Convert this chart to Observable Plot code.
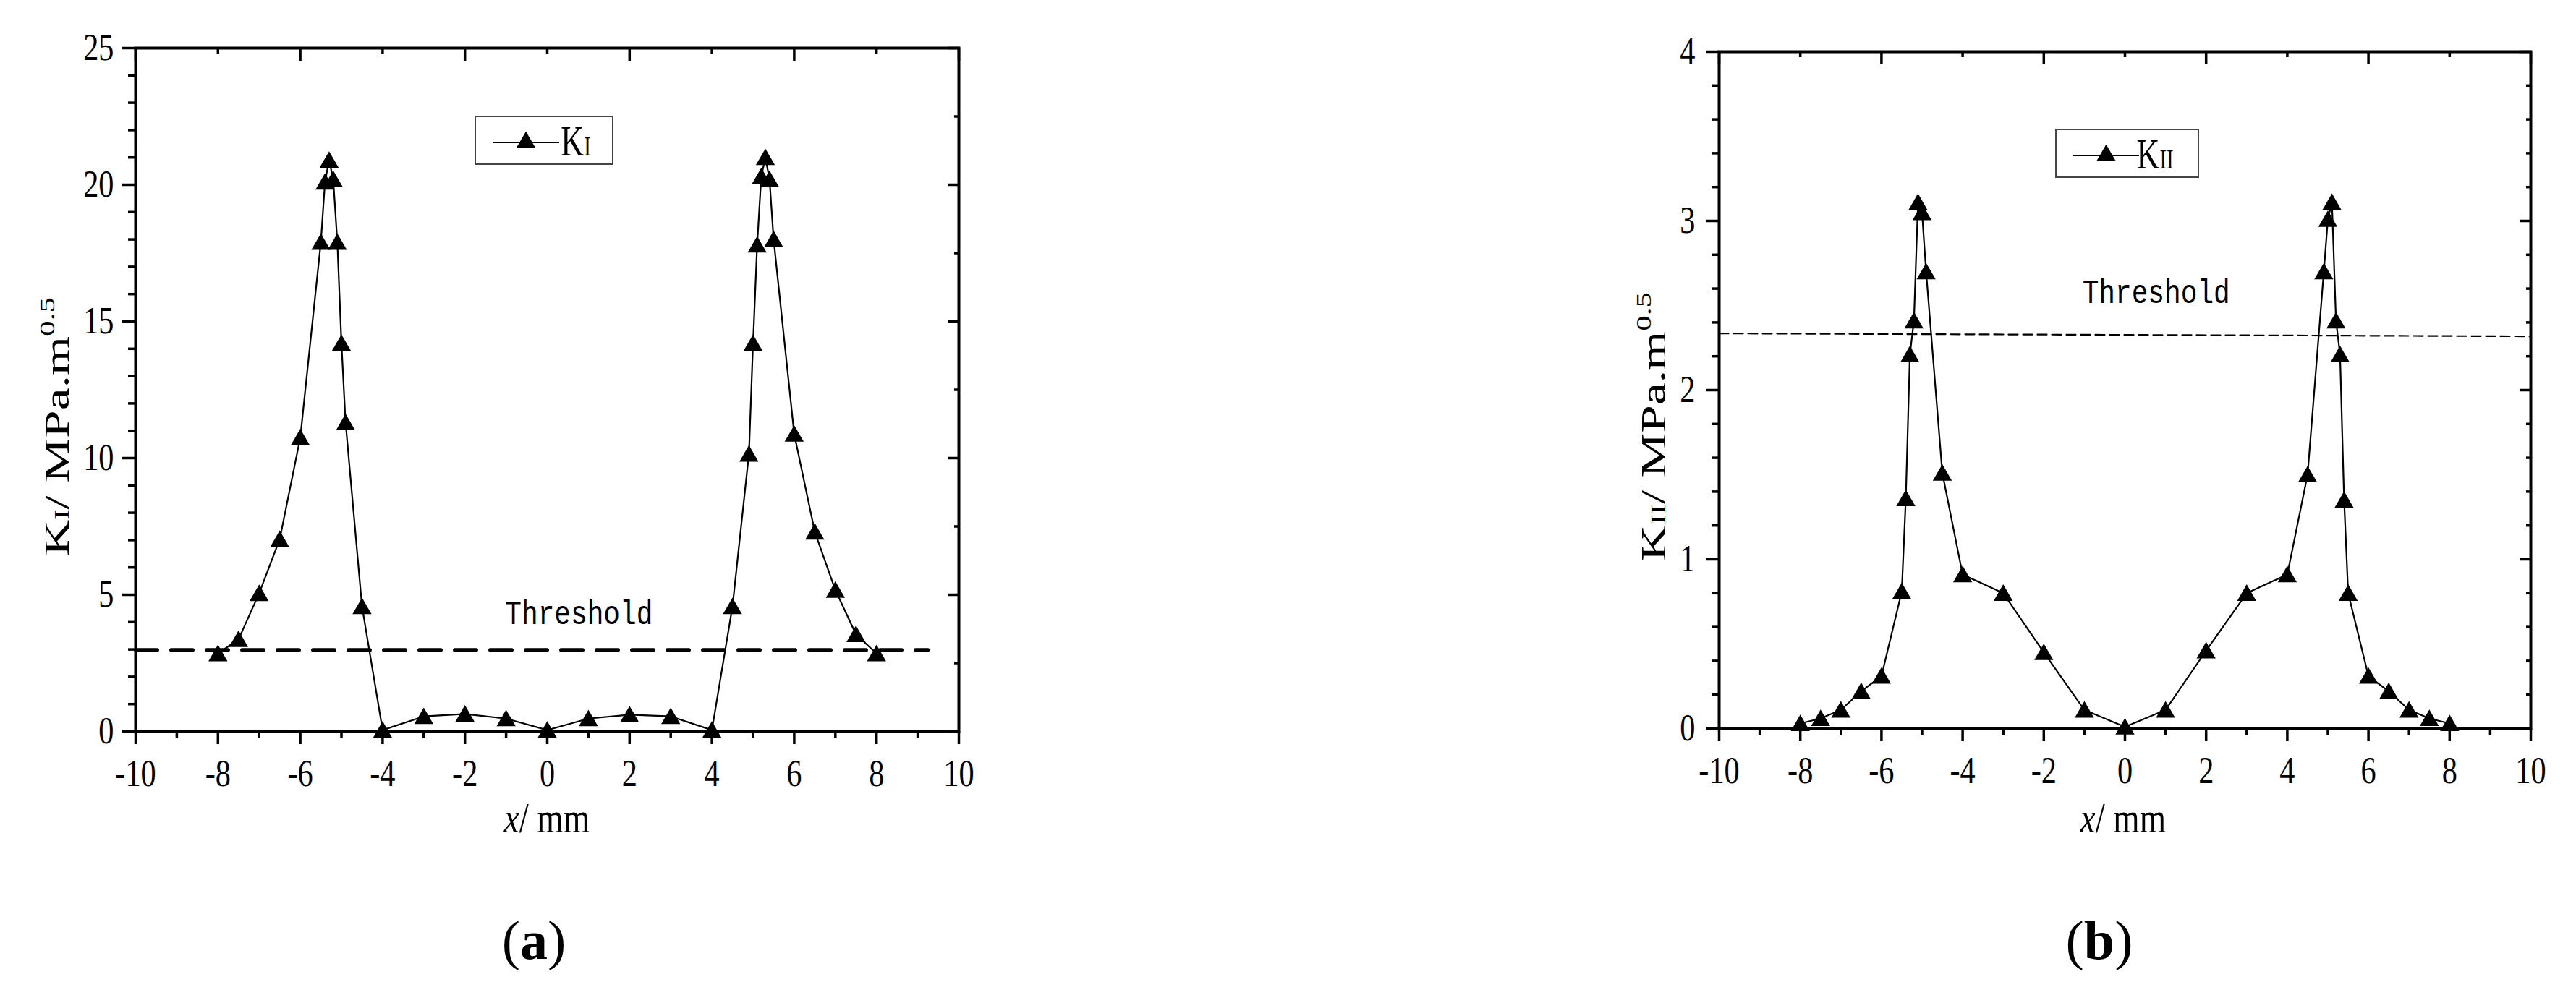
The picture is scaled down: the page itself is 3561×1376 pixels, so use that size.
<!DOCTYPE html>
<html><head><meta charset="utf-8">
<script src="https://cdn.jsdelivr.net/npm/d3@7"></script>
<script src="https://cdn.jsdelivr.net/npm/@observablehq/plot@0.6"></script>
<style>
html,body{margin:0;padding:0;background:#fff;}
#page{position:relative;width:3561px;height:1376px;overflow:hidden;background:#fff;}
.panel{position:absolute;top:0;}
.panel svg{max-width:none !important;display:block;}
</style></head>
<body><div id="page"><div id="pa" class="panel" style="left:0px"></div><div id="pb" class="panel" style="left:2190px"></div></div>
<script>
// ---------- data ----------
const xPos = [-8,-7.5,-7,-6.5,-6,-5.5,-5.4,-5.3,-5.2,-5.1,-5,-4.9,-4.5,-4,-3,-2,-1,0,1,2,3,4,4.5,4.9,5,5.1,5.2,5.3,5.4,5.5,6,6.5,7,7.5,8];
const kI  = [2.85,3.37,5.05,7.03,10.75,17.9,20.1,20.9,20.2,17.9,14.2,11.3,4.57,0.05,0.55,0.64,0.47,0.05,0.47,0.61,0.55,0.05,4.57,10.15,14.2,17.8,20.3,21.0,20.2,18.0,10.88,7.3,5.17,3.55,2.85];
const kII = [0.03,0.06,0.11,0.22,0.31,0.81,1.36,2.21,2.41,3.11,3.05,2.70,1.51,0.91,0.80,0.45,0.11,0.01,0.11,0.46,0.80,0.91,1.50,2.70,3.01,3.11,2.41,2.21,1.35,0.80,0.31,0.22,0.11,0.06,0.03];

const thresholdAx = [-10, 9.25], thresholdAy = [2.98, 2.98];
const thresholdBx = [-10, 10],   thresholdBy = [2.335, 2.318];
const thresholdLabelA = [{x: 0.77, y: 4.34, t: "Threshold"}];
const thresholdLabelB = [{x: 0.77, y: 2.58, t: "Threshold"}];

const xMajor = [-10,-8,-6,-4,-2,0,2,4,6,8,10];
const xMinor = [-9,-7,-5,-3,-1,1,3,5,7,9];
const xTopMajor = [-10,-6,-2,2,6,10];
const xTopMinor = [-8,-4,0,4,8];
const yMajorA = [0,5,10,15,20,25];
const yMinorA = [1,2,3,4,6,7,8,9,11,12,13,14,16,17,18,19,21,22,23,24];
const yRightMinorA = [2.5,7.5,12.5,17.5,22.5];
const yMajorB = [0,1,2,3,4];
const yMinorB = [0.2,0.4,0.6,0.8,1.2,1.4,1.6,1.8,2.2,2.4,2.6,2.8,3.2,3.4,3.6,3.8];

const SX = 0.9, SY = 1.12;   // text stretch

function stretchTexts(svg) {
  svg.querySelectorAll("text").forEach(t => {
    const num = v => (v != null && /^-?[\d.]+$/.test(v)) ? +v : 0;
    const x = num(t.getAttribute("x")), y = num(t.getAttribute("y"));
    const tr = t.getAttribute("transform") || "";
    t.setAttribute("transform", `${tr} translate(${x},${y}) scale(${SX},${SY}) translate(${-x},${-y})`);
  });
}

function panel(cfg) {
  const data = xPos.map((x, i) => ({x, y: cfg.values[i]}));
  const thr = cfg.thrX.map((x, i) => ({x, y: cfg.thrY[i]}));
  const common = {strokeWidth: 3.5, label: null};
  const svg = Plot.plot({
    width: cfg.width, height: 1376,
    marginLeft: cfg.ml, marginRight: cfg.mr, marginTop: cfg.mt, marginBottom: cfg.mb,
    x: {domain: [-10, 10]},
    y: {domain: cfg.yDomain},
    style: {fontFamily: "Liberation Serif", fontSize: "47px", color: "black", background: "white", overflow: "visible", maxWidth: "none"},
    marks: [
      Plot.line(thr, {x: "x", y: "y", stroke: "black", strokeWidth: cfg.thrW, strokeDasharray: cfg.thrDash}),
      Plot.line(data, {x: "x", y: "y", stroke: "black", strokeWidth: 2.2}),
      Plot.dot(data, {x: "x", y: "y", symbol: "triangle", r: 9.8, fill: "black", stroke: "none", dy: 3}),
      Plot.text(cfg.thrLabel, {x: "x", y: "y", text: "t", fontFamily: "Liberation Mono", fontSize: 42, fill: "black"}),
      Plot.axisX({anchor: "bottom", ticks: xMajor, tickSize: 18, tickPadding: 20, tickFormat: d => String(d), ...common}),
      Plot.axisX({anchor: "bottom", ticks: xMinor, tickSize: 10, tickFormat: () => "", ...common}),
      Plot.axisX({anchor: "top", ticks: xTopMajor, tickSize: -17, tickFormat: () => "", ...common}),
      Plot.axisX({anchor: "top", ticks: xTopMinor, tickSize: -7, tickFormat: () => "", ...common}),
      Plot.axisY({anchor: "left", ticks: cfg.yMajor, tickSize: 18, tickPadding: cfg.yPad, tickFormat: d => String(d), ...common}),
      Plot.axisY({anchor: "left", ticks: cfg.yMinor, tickSize: 10, tickFormat: () => "", ...common}),
      Plot.axisY({anchor: "right", ticks: cfg.yMajor, tickSize: -16, tickFormat: () => "", ...common}),
      Plot.axisY({anchor: "right", ticks: cfg.yRightMinor, tickSize: -7, tickFormat: () => "", ...common}),
      Plot.frame({stroke: "black", strokeWidth: 4})
    ]
  });
  document.getElementById(cfg.id).appendChild(svg);
  stretchTexts(svg);
  const s = d3.select(svg);

  // y-axis title
  const yl = s.append("text")
    .attr("transform", `translate(${cfg.ylX},590) rotate(-90) scale(1.22,0.85)`)
    .attr("text-anchor", "middle").attr("font-size", 57).attr("fill", "black");
  yl.append("tspan").text("K");
  yl.append("tspan").attr("font-size", "0.62em").text(cfg.sub);
  yl.append("tspan").text("/ MPa.m");
  yl.append("tspan").attr("font-size", "0.62em").attr("dy", "-0.66em").text("0.5");

  // x-axis title
  const xl = s.append("text")
    .attr("transform", `translate(${cfg.xlX},1151) scale(${SX},${SY})`)
    .attr("text-anchor", "middle").attr("font-size", 52).attr("fill", "black");
  xl.append("tspan").attr("font-style", "italic").text("x");
  xl.append("tspan").text("/ mm");

  // legend
  const L = cfg.legend;
  const g = s.append("g");
  g.append("rect").attr("x", L.bx).attr("y", L.by).attr("width", L.bw).attr("height", L.bh)
    .attr("fill", "white").attr("stroke", "#444").attr("stroke-width", 2);
  g.append("line").attr("x1", L.lx1).attr("x2", L.lx2).attr("y1", L.ly).attr("y2", L.ly)
    .attr("stroke", "black").attr("stroke-width", 2.2);
  g.append("path").attr("d", d3.symbol(d3.symbolTriangle, Math.PI * 9.8 * 9.8)())
    .attr("transform", `translate(${(L.lx1 + L.lx2) / 2},${L.ly})`).attr("fill", "black");
  const lt = g.append("text").attr("transform", `translate(${L.tx},${L.tb}) scale(0.85,1.15)`)
    .attr("font-size", 52).attr("fill", "black");
  lt.append("tspan").text("K");
  lt.append("tspan").attr("font-size", "0.65em").text(cfg.sub);

  // panel letter
  const pl = s.append("text").attr("x", cfg.letterX).attr("y", 1326).attr("text-anchor", "middle")
    .attr("font-size", 76).attr("fill", "black");
  pl.append("tspan").text("(");
  pl.append("tspan").attr("font-weight", "bold").text(cfg.letter);
  pl.append("tspan").text(")");
}

panel({
  id: "pa", width: 1400, ml: 187, mr: 75, mt: 66, mb: 365,
  values: kI, yDomain: [0, 25], yMajor: yMajorA, yMinor: yMinorA, yRightMinor: yRightMinorA, yPad: 12,
  thrX: thresholdAx, thrY: thresholdAy, thrW: 5, thrDash: "30,19", thrLabel: thresholdLabelA,
  sub: "I", ylX: 95, xlX: 756,
  legend: {bx: 657, by: 161, bw: 190, bh: 66, lx1: 681, lx2: 773, ly: 197, tx: 796, tb: 215},
  letter: "a", letterX: 738
});
panel({
  id: "pb", width: 1371, ml: 186, mr: 63, mt: 71, mb: 369,
  values: kII, yDomain: [0, 4], yMajor: yMajorB, yMinor: yMinorB, yRightMinor: yMinorB, yPad: 15,
  thrX: thresholdBx, thrY: thresholdBy, thrW: 2.2, thrDash: "13,7", thrLabel: thresholdLabelB,
  sub: "II", ylX: 112, xlX: 745,
  legend: {bx: 652, by: 179, bw: 197, bh: 66, lx1: 676, lx2: 767, ly: 215, tx: 789, tb: 233},
  letter: "b", letterX: 712
});
</script>
</body></html>
